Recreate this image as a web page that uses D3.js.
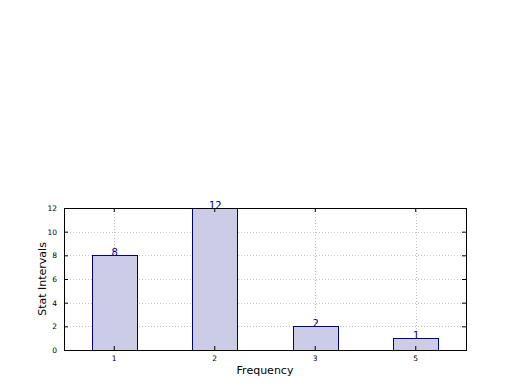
<!DOCTYPE html>
<html lang="en">
<head>
  <meta charset="UTF-8">
  <title>Stat Intervals by Frequency</title>
  <script src="https://cdn.jsdelivr.net/npm/d3@7/dist/d3.min.js"></script>
  <style>
    body { margin: 0; background: #fff; }
    text { font-family: "DejaVu Sans", sans-serif; }
  </style>
</head>
<body>
  <div id="chart"></div>
  <script>
    // chart data
    var categories = ["1", "2", "3", "5"];
    var counts = [8, 12, 2, 1];
    var yTicks = [0, 2, 4, 6, 8, 10, 12];

    var margin = { top: 208, right: 54, bottom: 40, left: 64 },
      width = 520 - margin.left - margin.right,
      height = 390 - margin.top - margin.bottom;

    var svg = d3.select("#chart")
      .append("svg")
      .attr("width", 520)
      .attr("height", 390)
      .append("g")
      .attr("transform", "translate(" + margin.left + "," + margin.top + ")");

    // band scale: 4 slots, bar takes 45% of each
    var x = d3.scaleBand()
      .domain(categories)
      .range([0, width])
      .paddingInner(0)
      .paddingOuter(0);
    var barW = x.bandwidth() * 0.45;

    var y = d3.scaleLinear()
      .domain([0, 12])
      .range([height, 0]);

    // grid lines
    svg.append("g")
      .selectAll("line")
      .data(yTicks)
      .enter()
      .append("line")
      .attr("x1", 0)
      .attr("x2", width)
      .attr("y1", d => Math.round(y(d)) + 0.5)
      .attr("y2", d => Math.round(y(d)) + 0.5)
      .attr("stroke", "#c4c4c4")
      .attr("stroke-dasharray", "1,2");

    svg.append("g")
      .selectAll("line")
      .data(categories)
      .enter()
      .append("line")
      .attr("x1", d => Math.round(x(d) + x.bandwidth() / 2) + 0.5)
      .attr("x2", d => Math.round(x(d) + x.bandwidth() / 2) + 0.5)
      .attr("y1", 0)
      .attr("y2", height)
      .attr("stroke", "#c4c4c4")
      .attr("stroke-dasharray", "1,2");

    // bars
    svg.selectAll(".bar")
      .data(counts)
      .enter()
      .append("rect")
      .attr("class", "bar")
      .attr("x", (d, i) => Math.round(x(categories[i]) + x.bandwidth() / 2 - barW / 2) + 0.5)
      .attr("y", d => Math.round(y(d)) + 0.5)
      .attr("width", Math.round(barW))
      .attr("height", d => Math.round(height - y(d)))
      .attr("fill", "#ccccE6")
      .attr("stroke", "#000080")
      .attr("stroke-width", 1);

    // value labels
    svg.selectAll(".label")
      .data(counts)
      .enter()
      .append("text")
      .attr("class", "label")
      .attr("x", (d, i) => x(categories[i]) + x.bandwidth() / 2 + 0.5)
      .attr("y", d => y(d) + 1)
      .attr("text-anchor", "middle")
      .attr("font-size", 10)
      .attr("fill", "#000080")
      .text(d => d);

    // axes (ticks inside, like matplotlib classic)
    var xAxis = svg.append("g")
      .attr("transform", "translate(0," + height + ")")
      .call(d3.axisBottom(x).tickSizeInner(-4).tickSizeOuter(0).tickPadding(6));
    xAxis.selectAll("text").attr("font-size", 7.5).attr("fill", "#000");
    xAxis.select(".domain").remove();

    var yAxis = svg.append("g")
      .call(d3.axisLeft(y).tickValues(yTicks).tickSizeInner(-4).tickSizeOuter(0).tickPadding(7));
    yAxis.selectAll("text").attr("font-size", 7.5).attr("fill", "#000");
    yAxis.select(".domain").remove();

    // right-side and top ticks
    svg.append("g")
      .attr("transform", "translate(" + width + ",0)")
      .call(d3.axisRight(y).tickValues(yTicks).tickSizeInner(-4).tickSizeOuter(0).tickFormat(""))
      .select(".domain").remove();
    svg.append("g")
      .call(d3.axisTop(x).tickSizeInner(-4).tickSizeOuter(0).tickFormat(""))
      .select(".domain").remove();

    // frame
    svg.append("rect")
      .attr("x", 0.5)
      .attr("y", 0.5)
      .attr("width", width)
      .attr("height", height)
      .attr("fill", "none")
      .attr("stroke", "#000")
      .attr("stroke-width", 1);

    // axis titles
    svg.append("text")
      .attr("x", width / 2)
      .attr("y", height + 24)
      .attr("text-anchor", "middle")
      .attr("font-size", 11)
      .text("Frequency");

    svg.append("text")
      .attr("transform", "translate(-18," + (height / 2) + ") rotate(-90)")
      .attr("text-anchor", "middle")
      .attr("font-size", 11)
      .text("Stat Intervals");
  </script>
</body>
</html>
